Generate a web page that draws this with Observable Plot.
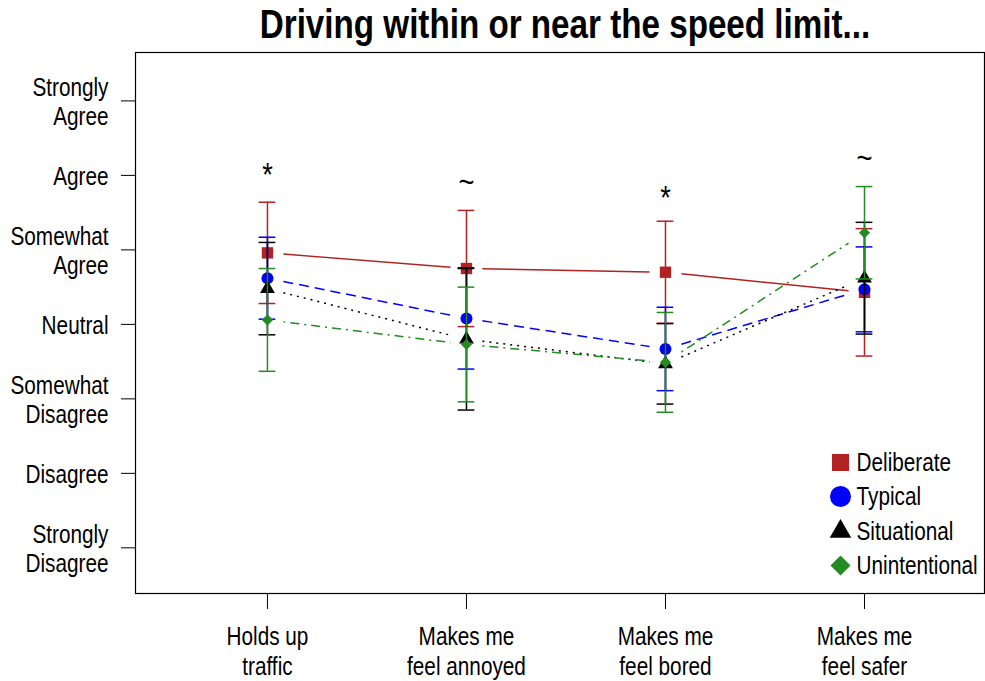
<!DOCTYPE html>
<html>
<head>
<meta charset="utf-8">
<script src="https://cdn.jsdelivr.net/npm/d3@7"></script>
<script src="https://cdn.jsdelivr.net/npm/@observablehq/plot@0.6"></script>
<style>
  body { margin: 0; background: white; }
  #chart svg { display: block; }
</style>
</head>
<body>
<div id="chart"></div>
<script>
const title = "Driving within or near the speed limit...";
const categories = ["Holds up\ntraffic", "Makes me\nfeel annoyed", "Makes me\nfeel bored", "Makes me\nfeel safer"];
const yLabels = ["Strongly\nDisagree", "Disagree", "Somewhat\nDisagree", "Neutral", "Somewhat\nAgree", "Agree", "Strongly\nAgree"];
const seriesNames = ["Deliberate", "Typical", "Situational", "Unintentional"];
const deliberateMean = [4.96, 4.75, 4.70, 4.43];
const deliberateErr  = [0.68, 0.78, 0.685, 0.855];
const typicalMean = [4.62, 4.08, 3.67, 4.47];
const typicalErr  = [0.55, 0.68, 0.56, 0.57];
const situationalMean = [4.48, 3.80, 3.47, 4.62];
const situationalErr  = [0.62, 0.95, 0.54, 0.75];
const unintentionalMean = [4.06, 3.73, 3.49, 5.23];
const unintentionalErr  = [0.69, 0.77, 0.67, 0.62];
const sigLabels = ["*", "~", "*", "~"];
const sigY = [6.00, 5.90, 5.69, 6.23];

const FONT = "'Liberation Sans', Arial, sans-serif";
const SX = 0.83; // horizontal condensing of text to mimic a narrow face

const styles = [
  {color: "#B22222", symbol: "square", r: 6.4, dash: null, lr: 9.6},
  {color: "#0000FF", symbol: "circle", r: 6, dash: "10,6", lr: 10.5},
  {color: "#000000", symbol: "triangle", r: 5.5, dash: "2,5", lr: 8},
  {color: "#228B22", symbol: "diamond2", r: 5, dash: "2,5,9,5", lr: 9}
];
const means = [deliberateMean, typicalMean, situationalMean, unintentionalMean];
const errs = [deliberateErr, typicalErr, situationalErr, unintentionalErr];

const rows = [];
seriesNames.forEach((s, k) => {
  means[k].forEach((m, i) => rows.push({series: s, k, x: i + 1, mean: m, lo: m - errs[k][i], hi: m + errs[k][i]}));
});

const gap = 0.08, capW = 0.042;
const marks = [Plot.frame({stroke: "black", strokeWidth: 1.2})];

seriesNames.forEach((s, k) => {
  const m = means[k];
  const segs = d3.range(m.length - 1).map(i => ({
    x1: i + 1 + gap, x2: i + 2 - gap,
    y1: m[i] + (m[i + 1] - m[i]) * gap,
    y2: m[i] + (m[i + 1] - m[i]) * (1 - gap)
  }));
  marks.push(Plot.link(segs, {x1: "x1", y1: "y1", x2: "x2", y2: "y2",
    stroke: styles[k].color, strokeWidth: 1.5, strokeDasharray: styles[k].dash}));
});

seriesNames.forEach((s, k) => {
  const d = rows.filter(r => r.k === k);
  const st = styles[k];
  marks.push(Plot.ruleX(d, {x: "x", y1: "lo", y2: "hi", stroke: st.color, strokeWidth: 1.5}));
  marks.push(Plot.ruleY(d, {y: "lo", x1: r => r.x - capW, x2: r => r.x + capW, stroke: st.color, strokeWidth: 1.5}));
  marks.push(Plot.ruleY(d, {y: "hi", x1: r => r.x - capW, x2: r => r.x + capW, stroke: st.color, strokeWidth: 1.5}));
  marks.push(Plot.dot(d, {x: "x", y: "mean", symbol: () => st.symbol, r: st.r, fill: st.color, stroke: "none"}));
});

marks.push(Plot.text(sigLabels, {x: (d, i) => i + 1, y: (d, i) => sigY[i], text: d => d, fontSize: 33, fill: "black"}));

marks.push(Plot.text([title], {frameAnchor: "top", dx: 5, dy: -27, fontSize: 40, fontWeight: "bold", lineAnchor: "middle", fill: "black"}));

const legendDy = [-131, -97, -62, -28];
seriesNames.forEach((s, k) => {
  const st = styles[k];
  marks.push(Plot.dot([s], {frameAnchor: "bottom-right", dx: -144, dy: legendDy[k], symbol: () => st.symbol, r: st.lr, fill: st.color, stroke: "none"}));
  marks.push(Plot.text([s], {frameAnchor: "bottom-right", dx: -128, dy: legendDy[k], text: d => d, textAnchor: "start", lineAnchor: "middle", fontSize: 25, fill: "black"}));
});

marks.push(Plot.axisX({ticks: [1, 2, 3, 4], tickFormat: d => categories[d - 1], tickSize: 16, tickPadding: 14, fontSize: 25, lineHeight: 1.2}));
marks.push(Plot.axisY({ticks: [1, 2, 3, 4, 5, 6, 7], tickFormat: d => yLabels[d - 1], tickSize: 14, tickPadding: 13, fontSize: 25, lineHeight: 1.16}));

const chart = Plot.plot({
  width: 985, height: 681,
  marginTop: 52, marginBottom: 88, marginLeft: 135, marginRight: 1,
  style: {fontFamily: FONT, background: "white", color: "black"},
  x: {domain: [0.337, 4.603]},
  y: {domain: [0.387, 7.65]},
  marks
});

chart.querySelectorAll("text").forEach(t => {
  const x = +t.getAttribute("x") || 0, y = +t.getAttribute("y") || 0;
  const tr = t.getAttribute("transform") || "";
  t.setAttribute("transform", `${tr} translate(${x},${y}) scale(${SX},1) translate(${-x},${-y})`);
});

document.getElementById("chart").append(chart);
</script>
</body>
</html>
